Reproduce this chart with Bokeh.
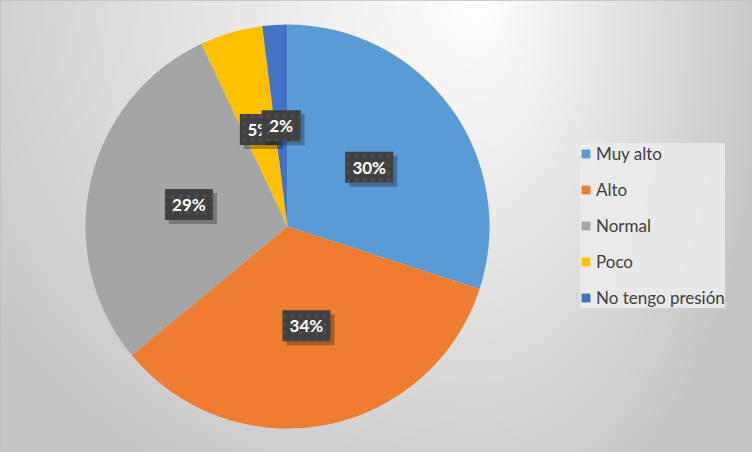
import numpy as np
from bokeh.plotting import figure
from bokeh.models import ColumnDataSource, Legend, LegendItem
from bokeh.core.properties import value
from bokeh.embed import file_html
from bokeh.resources import INLINE

categories = ["Muy alto", "Alto", "Normal", "Poco", "No tengo presión"]
percentages = [30, 34, 29, 5, 2]
colors = ["#5B9BD5", "#ED7D31", "#A5A5A5", "#FFC000", "#4472C4"]

W, H = 752, 452
p = figure(width=W, height=H, x_range=(0, W), y_range=(0, H),
           output_backend="svg", toolbar_location=None, min_border=0)
p.axis.visible = False
p.grid.visible = False
p.outline_line_color = "#bfbfbf"
p.outline_line_width = 3
p.background_fill_color = "#e0e0e0"
p.border_fill_color = "#e0e0e0"

# background gradient (decorative)
yy, xx = np.mgrid[0:H, 0:W]
px = xx.astype(float)
py = (H - yy).astype(float)
gx = 480.0
sx = np.where(px > gx, 230.0, 480.0)
t = np.sqrt(((px - gx) / sx) ** 2 + (py / 452.0) ** 2)
val = 255 - 45 * np.clip(t, 0, 1.25)
img = np.empty((H, W), dtype=np.uint32)
v = img.view(dtype=np.uint8).reshape((H, W, 4))
v[:, :, 0] = val
v[:, :, 1] = val
v[:, :, 2] = val
v[:, :, 3] = 255
p.image_rgba(image=[img], x=0, y=0, dw=W, dh=H)

# pie
cx, cy, R = 287.0, 226.0, 202.0
frac = np.array(percentages, dtype=float) / sum(percentages)
cum = np.concatenate([[0], np.cumsum(frac)])
start = np.pi / 2 - cum[:-1] * 2 * np.pi
end = np.pi / 2 - cum[1:] * 2 * np.pi
src = ColumnDataSource(dict(category=categories, start=start, end=end, color=colors))
wr = p.wedge(x=cx, y=cy, radius=R, start_angle="start", end_angle="end",
             direction="clock", fill_color="color", line_color=None, source=src)

# data labels
mid = (start + end) / 2
labels = [f"{v_}%" for v_ in percentages]
lx = cx + 0.5 * R * np.cos(mid)
ly = cy + 0.5 * R * np.sin(mid)
for i in range(len(categories)):
    bw = 21 + 9 * len(labels[i])
    s = ColumnDataSource(dict(x=[lx[i]], y=[ly[i]], sx=[lx[i] + 4], sy=[ly[i] - 4],
                              t=[labels[i]], w=[bw]))
    p.rect(x="sx", y="sy", width="w", height=31, width_units="screen", height_units="screen",
           fill_color="black", fill_alpha=0.28, line_color=None, source=s)
    p.rect(x="x", y="y", width="w", height=31, width_units="screen", height_units="screen",
           fill_color="#404040", line_color=None, hatch_pattern="dot",
           hatch_color="#4d4d4d", hatch_scale=8, source=s)
    p.text(x="x", y="y", text="t", text_align="center", text_baseline="middle",
           text_font=value("Lato"), text_font_style="bold", text_font_size="17px",
           text_color="white", source=s)

items = [LegendItem(label=categories[i], renderers=[wr], index=i) for i in range(len(categories))]
legend = Legend(items=items, location=(580, 144), orientation="vertical")
legend.label_text_font = "Lato"
legend.label_text_font_size = "17px"
legend.label_text_color = "#404040"
legend.glyph_width = 11
legend.glyph_height = 11
legend.label_height = 20
legend.label_standoff = 5
legend.spacing = 15
legend.padding = 10
legend.margin = 0
legend.background_fill_color = "#ebebeb"
legend.background_fill_alpha = 0.9
legend.border_line_color = None
p.add_layout(legend, "center")

open("out.html", "w").write(file_html(p, INLINE))
